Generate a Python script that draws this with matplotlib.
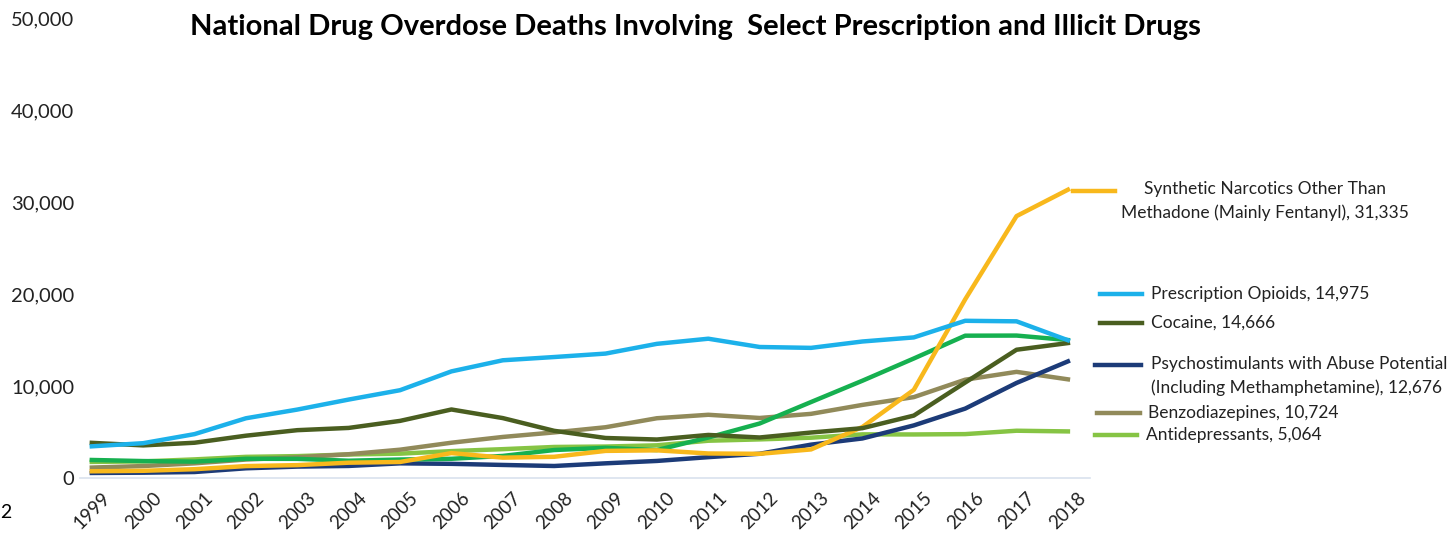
import matplotlib
matplotlib.use("Agg")
import matplotlib.pyplot as plt
from matplotlib.ticker import FuncFormatter

plt.rcParams['font.family'] = ['Lato', 'DejaVu Sans']

years = list(range(1999, 2019))

synthetic = [730, 782, 957, 1295, 1400, 1664, 1742, 2707, 2213, 2306,
             2946, 3007, 2666, 2628, 3105, 5544, 9580, 19413, 28466, 31335]
rx_opioids = [3442, 3785, 4770, 6493, 7438, 8526, 9543, 11589, 12796, 13149,
              13523, 14583, 15140, 14240, 14145, 14838, 15281, 17087, 17029, 14975]
cocaine = [3822, 3544, 3833, 4599, 5199, 5443, 6208, 7448, 6512, 5129,
           4350, 4183, 4681, 4404, 4944, 5415, 6784, 10375, 13942, 14666]
heroin = [1960, 1842, 1779, 2089, 2080, 1878, 2009, 2088, 2399, 3041,
          3278, 3036, 4397, 5925, 8257, 10574, 12989, 15469, 15482, 14996]
psychostim = [547, 578, 650, 1055, 1239, 1310, 1593, 1539, 1419, 1305,
              1595, 1854, 2266, 2635, 3627, 4298, 5716, 7542, 10333, 12676]
benzo = [1135, 1298, 1594, 2007, 2248, 2585, 3078, 3835, 4462, 4955,
         5517, 6497, 6872, 6524, 6973, 7945, 8791, 10684, 11537, 10724]
antidep = [1749, 1802, 2023, 2299, 2379, 2554, 2645, 2923, 3134, 3374,
           3420, 3553, 4051, 4197, 4380, 4744, 4733, 4771, 5138, 5064]

labels = {
    'synthetic': "Synthetic Narcotics Other Than\nMethadone (Mainly Fentanyl), 31,335",
    'rx': "Prescription Opioids, 14,975",
    'cocaine': "Cocaine, 14,666",
    'psycho': "Psychostimulants with Abuse Potential\n(Including Methamphetamine), 12,676",
    'benzo': "Benzodiazepines, 10,724",
    'antidep': "Antidepressants, 5,064",
}

c_syn = '#F8B81C'
c_rx = '#1CB1EA'
c_coc = '#4A5E20'
c_her = '#16B050'
c_psy = '#1C3B78'
c_ben = '#918A5A'
c_ant = '#86C444'

fig = plt.figure(figsize=(14.51, 5.41), dpi=100)
ax = fig.add_axes([80 / 1451, 63 / 541, 1010 / 1451, 460 / 541])

lw = 3.2
ax.plot(years, antidep, color=c_ant, lw=lw)
ax.plot(years, benzo, color=c_ben, lw=lw)
ax.plot(years, psychostim, color=c_psy, lw=lw)
ax.plot(years, heroin, color=c_her, lw=lw)
ax.plot(years, synthetic, color=c_syn, lw=lw)
ax.plot(years, cocaine, color=c_coc, lw=lw)
ax.plot(years, rx_opioids, color=c_rx, lw=lw)

ax.set_xlim(1998.77, 2018.43)
ax.set_ylim(0, 50000)
ax.set_yticks(range(0, 50001, 10000))
ax.yaxis.set_major_formatter(FuncFormatter(lambda v, p: f"{int(v):,}"))
ax.set_xticks(years)
ax.set_xticklabels([str(y) for y in years], rotation=45, fontsize=13.5)
ax.tick_params(axis='y', labelsize=14.5, length=0, pad=4, labelcolor='#222222')
ax.tick_params(axis='x', length=0, pad=8, labelcolor='#222222')
for s in ['top', 'right', 'left']:
    ax.spines[s].set_visible(False)
ax.spines['bottom'].set_color('#D9E2EE')
ax.spines['bottom'].set_linewidth(1.2)

fig.text(695 / 1451, 1 - 27 / 541,
         "National Drug Overdose Deaths Involving  Select Prescription and Illicit Drugs",
         ha='center', va='center', fontsize=21, fontweight='bold')

# legend entries at right: (sample x0, x1, y, text x, color, label, align, text y)
def px(x, y):
    return x / 1451, 1 - y / 541

entries = [
    (1073, 1115, 191, 1265, c_syn, labels['synthetic'], 'center', 201),
    (1100, 1142, 294, 1151, c_rx, labels['rx'], 'left', 294),
    (1100, 1142, 323, 1151, c_coc, labels['cocaine'], 'left', 323),
    (1095, 1141, 365, 1151, c_psy, labels['psycho'], 'left', 376),
    (1097, 1140, 413, 1148, c_ben, labels['benzo'], 'left', 413),
    (1095, 1137, 435, 1146, c_ant, labels['antidep'], 'left', 435),
]
for x0, x1, y, tx, col, lab, align, ty in entries:
    a, b = px(x0, y)
    c, _ = px(x1, y)
    fig.add_artist(plt.Line2D([a, c], [b, b], color=col, lw=lw,
                              transform=fig.transFigure))
    xx, yy = px(tx, ty)
    fig.text(xx, yy, lab, ha=align, va='center', fontsize=12.5,
             linespacing=1.5, color='#222222')

fig.text(0.0, 1 - 512 / 541, "2", ha='left', va='center', fontsize=14)

fig.savefig("out.png", dpi=100)
